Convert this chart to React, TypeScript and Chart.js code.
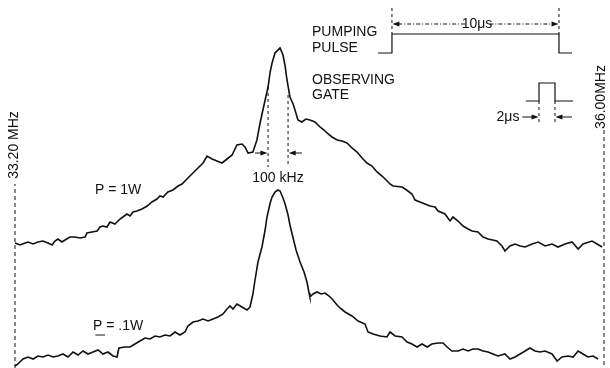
import React, { useEffect, useRef } from 'react';
import { Chart, registerables } from 'chart.js';

Chart.register(...registerables);

// Frequency axis (MHz) of the sweep
const FREQ_START = 33.2;
const FREQ_END = 36.0;
const X_MIN = 33.1287;
const X_MAX = 36.0285;
// Signal amplitude (arbitrary units, traces offset vertically)
const Y_MIN = 0;
const Y_MAX = 368;

// P = 1W trace
const freqHigh = [
  33.200, 33.224, 33.248, 33.262, 33.286, 33.309, 33.333, 33.357, 33.376, 33.390,
  33.404, 33.423, 33.438, 33.461, 33.485, 33.509, 33.533, 33.542, 33.566, 33.590,
  33.604, 33.618, 33.637, 33.652, 33.675, 33.699, 33.713, 33.732, 33.747, 33.761,
  33.780, 33.804, 33.828, 33.851, 33.875, 33.889, 33.904, 33.927, 33.951, 33.975,
  33.994, 34.022, 34.046, 34.070, 34.094, 34.113, 34.137, 34.160, 34.184, 34.208,
  34.232, 34.255, 34.279, 34.293, 34.308, 34.331, 34.350, 34.365, 34.389, 34.403,
  34.413, 34.422, 34.436, 34.460, 34.474, 34.484, 34.493, 34.507, 34.522, 34.531,
  34.545, 34.564, 34.583, 34.602, 34.626, 34.650, 34.669, 34.683, 34.707, 34.731,
  34.755, 34.778, 34.802, 34.826, 34.850, 34.873, 34.897, 34.921, 34.945, 34.964,
  34.983, 34.997, 35.040, 35.068, 35.087, 35.102, 35.125, 35.149, 35.173, 35.197,
  35.211, 35.244, 35.268, 35.282, 35.306, 35.330, 35.354, 35.373, 35.401, 35.425,
  35.449, 35.491, 35.515, 35.529, 35.553, 35.577, 35.601, 35.625, 35.658, 35.687,
  35.720, 35.753, 35.781, 35.815, 35.848, 35.877, 35.900, 35.943, 35.967, 35.991,
];
const ampHigh = [
  125, 123, 125, 126, 124, 126, 127, 125, 123, 127,
  129, 126, 128, 131, 131, 130, 131, 135, 136, 137,
  141, 142, 141, 146, 144, 149, 151, 154, 152, 156,
  157, 159, 162, 166, 169, 172, 171, 176, 178, 182,
  184, 190, 195, 200, 205, 212, 209, 207, 205, 209,
  213, 223, 224, 221, 215, 216, 228, 245, 268, 281,
  296, 305, 315, 320, 313, 302, 288, 271, 264, 258,
  248, 246, 249, 248, 246, 241, 238, 235, 231, 228,
  227, 225, 220, 216, 210, 205, 202, 196, 192, 188,
  184, 182, 181, 177, 174, 168, 166, 164, 162, 161,
  157, 154, 147, 151, 147, 142, 139, 137, 136, 131,
  129, 127, 122, 117, 122, 124, 122, 121, 124, 126,
  122, 124, 121, 124, 126, 119, 124, 127, 124, 121,
];

// P = .1W trace
const freqLow = [
  33.200, 33.214, 33.238, 33.262, 33.286, 33.309, 33.333, 33.357, 33.381, 33.404,
  33.428, 33.452, 33.476, 33.500, 33.523, 33.547, 33.571, 33.595, 33.618, 33.642,
  33.666, 33.685, 33.694, 33.723, 33.747, 33.770, 33.794, 33.818, 33.842, 33.866,
  33.889, 33.913, 33.937, 33.961, 33.984, 34.008, 34.022, 34.046, 34.070, 34.094,
  34.118, 34.141, 34.165, 34.189, 34.208, 34.222, 34.236, 34.255, 34.279, 34.303,
  34.317, 34.331, 34.341, 34.355, 34.374, 34.389, 34.398, 34.413, 34.422, 34.436,
  34.450, 34.460, 34.474, 34.484, 34.498, 34.507, 34.522, 34.536, 34.555, 34.574,
  34.588, 34.598, 34.602, 34.617, 34.636, 34.655, 34.674, 34.693, 34.712, 34.731,
  34.745, 34.769, 34.802, 34.831, 34.864, 34.878, 34.902, 34.935, 34.968, 34.983,
  35.007, 35.040, 35.064, 35.087, 35.111, 35.135, 35.159, 35.182, 35.211, 35.235,
  35.254, 35.277, 35.306, 35.330, 35.354, 35.377, 35.401, 35.425, 35.449, 35.472,
  35.496, 35.529, 35.553, 35.577, 35.601, 35.625, 35.648, 35.672, 35.696, 35.720,
  35.753, 35.777, 35.800, 35.829, 35.853, 35.877, 35.900, 35.924, 35.948, 35.972,
];
const ampLow = [
  2, 4, 9, 11, 9, 12, 11, 13, 11, 12,
  14, 11, 16, 13, 17, 14, 16, 18, 14, 16,
  12, 11, 20, 21, 21, 24, 27, 30, 29, 32,
  31, 33, 32, 36, 33, 36, 42, 46, 47, 49,
  47, 49, 51, 54, 59, 62, 59, 64, 61, 58,
  61, 74, 88, 106, 121, 138, 151, 165, 171, 176,
  178, 177, 170, 164, 153, 143, 130, 118, 106, 96,
  86, 75, 71, 74, 76, 74, 75, 72, 68, 63,
  60, 56, 52, 47, 44, 36, 34, 32, 31, 36,
  32, 31, 26, 24, 21, 24, 21, 24, 25, 25,
  21, 17, 17, 19, 17, 19, 19, 17, 16, 14,
  12, 14, 9, 11, 14, 17, 20, 17, 16, 17,
  14, 7, 11, 12, 11, 17, 14, 11, 12, 9,
];

// Inset timing diagrams (drawn in the chart's own coordinates)
const pumpX = [34.926, 34.992, 34.992, 35.786, 35.786, 35.848];
const pumpY = [315, 315, 334, 334, 315, 315];
const gateX = [35.629, 35.691, 35.691, 35.767, 35.767, 35.853];
const gateY = [267, 267, 285, 285, 267, 267];

const toPts = (xs: number[], ys: number[]) => xs.map((v, i) => ({ x: v, y: ys[i] }));

const FONT = '14px "Liberation Sans", Arial, sans-serif';
const INK = '#111';

const annotations = {
  id: 'annotations',
  afterDatasetsDraw(chart: any) {
    const { ctx, scales } = chart;
    const X = (v: number) => scales.x.getPixelForValue(v);
    const Y = (v: number) => scales.y.getPixelForValue(v);
    ctx.save();
    ctx.strokeStyle = INK;
    ctx.fillStyle = INK;
    ctx.lineWidth = 1;

    const line = (x1: number, y1: number, x2: number, y2: number, dash: number[] = []) => {
      ctx.setLineDash(dash);
      ctx.beginPath();
      ctx.moveTo(X(x1), Y(y1));
      ctx.lineTo(X(x2), Y(y2));
      ctx.stroke();
      ctx.setLineDash([]);
    };
    // horizontal arrow from x1 to x2 (head at x2)
    const arrow = (x1: number, x2: number, yv: number, dash: number[] = []) => {
      const px1 = X(x1), px2 = X(x2), py = Y(yv);
      const dir = px2 > px1 ? 1 : -1;
      ctx.setLineDash(dash);
      ctx.beginPath();
      ctx.moveTo(px1, py);
      ctx.lineTo(px2 - dir * 5, py);
      ctx.stroke();
      ctx.setLineDash([]);
      ctx.beginPath();
      ctx.moveTo(px2, py);
      ctx.lineTo(px2 - dir * 7, py - 2.5);
      ctx.lineTo(px2 - dir * 7, py + 2.5);
      ctx.closePath();
      ctx.fill();
    };
    const text = (s: string, xv: number, yv: number, align: CanvasTextAlign = 'left') => {
      ctx.font = FONT;
      ctx.textAlign = align;
      ctx.textBaseline = 'middle';
      ctx.fillText(s, X(xv), Y(yv));
    };
    const vtext = (s: string, xv: number, yv: number) => {
      ctx.save();
      ctx.translate(X(xv), Y(yv));
      ctx.rotate(-Math.PI / 2);
      ctx.font = FONT;
      ctx.textAlign = 'center';
      ctx.textBaseline = 'middle';
      ctx.fillText(s, 0, 0);
      ctx.restore();
    };

    // sweep limit labels
    vtext('33.20 MHz', FREQ_START - 0.002, 223);
    vtext('36.00MHz', FREQ_END - 0.012, 271);

    // 100 kHz width marker
    line(34.403, 281, 34.403, 201, [3, 3]);
    line(34.498, 273, 34.498, 201, [3, 3]);
    arrow(34.341, 34.400, 215);
    arrow(34.564, 34.501, 215);
    text('100 kHz', 34.450, 190, 'center');

    // power labels
    text('P = 1W', 33.690, 178, 'center');
    text('P = .1W', 33.690, 42, 'center');
    line(33.582, 33, 33.628, 33);

    // pumping pulse
    text('PUMPING', 34.612, 336);
    text('PULSE', 34.612, 320);
    line(34.992, 360, 34.992, 334, [3, 3]);
    line(35.786, 360, 35.786, 334, [3, 3]);
    arrow(35.340, 34.994, 344, [4, 2, 1, 2]);
    arrow(35.455, 35.784, 344, [4, 2, 1, 2]);
    text('10μs', 35.396, 344, 'center');

    // observing gate
    text('OBSERVING', 34.612, 288);
    text('GATE', 34.612, 273);
    line(35.691, 267, 35.691, 244, [3, 3]);
    line(35.767, 267, 35.767, 244, [3, 3]);
    arrow(35.612, 35.689, 251);
    arrow(35.848, 35.769, 251);
    text('2μs', 35.598, 251, 'right');

    ctx.restore();
  },
};

export default function App() {
  const ref = useRef<HTMLCanvasElement>(null);
  useEffect(() => {
    if (!ref.current) return;
    const common = { pointRadius: 0, borderColor: INK, tension: 0, fill: false };
    const chart = new Chart(ref.current, {
      type: 'line',
      data: {
        datasets: [
          { ...common, label: 'P = 1W', data: toPts(freqHigh, ampHigh), borderWidth: 1.6 },
          { ...common, label: 'P = .1W', data: toPts(freqLow, ampLow), borderWidth: 1.6 },
          { ...common, label: 'pumping pulse', data: toPts(pumpX, pumpY), borderWidth: 1.2 },
          { ...common, label: 'observing gate', data: toPts(gateX, gateY), borderWidth: 1.2 },
          { ...common, label: '33.20 MHz', data: [{ x: FREQ_START, y: 0 }, { x: FREQ_START, y: 184 }], borderWidth: 1, borderDash: [4, 3] },
          { ...common, label: '36.00 MHz', data: [{ x: FREQ_END, y: 3 }, { x: FREQ_END, y: 240 }], borderWidth: 1, borderDash: [4, 3] },
        ],
      },
      options: {
        responsive: false,
        animation: false,
        layout: { padding: 0 },
        plugins: { legend: { display: false }, tooltip: { enabled: false } },
        scales: {
          x: { type: 'linear', min: X_MIN, max: X_MAX, display: false },
          y: { type: 'linear', min: Y_MIN, max: Y_MAX, display: false },
        },
      },
      plugins: [annotations],
    });
    return () => chart.destroy();
  }, []);
  return (
    <div style={{ position: 'fixed', left: 0, top: 0, width: 610, height: 368, background: '#fff' }}>
      <canvas ref={ref} width={610} height={368} />
    </div>
  );
}
